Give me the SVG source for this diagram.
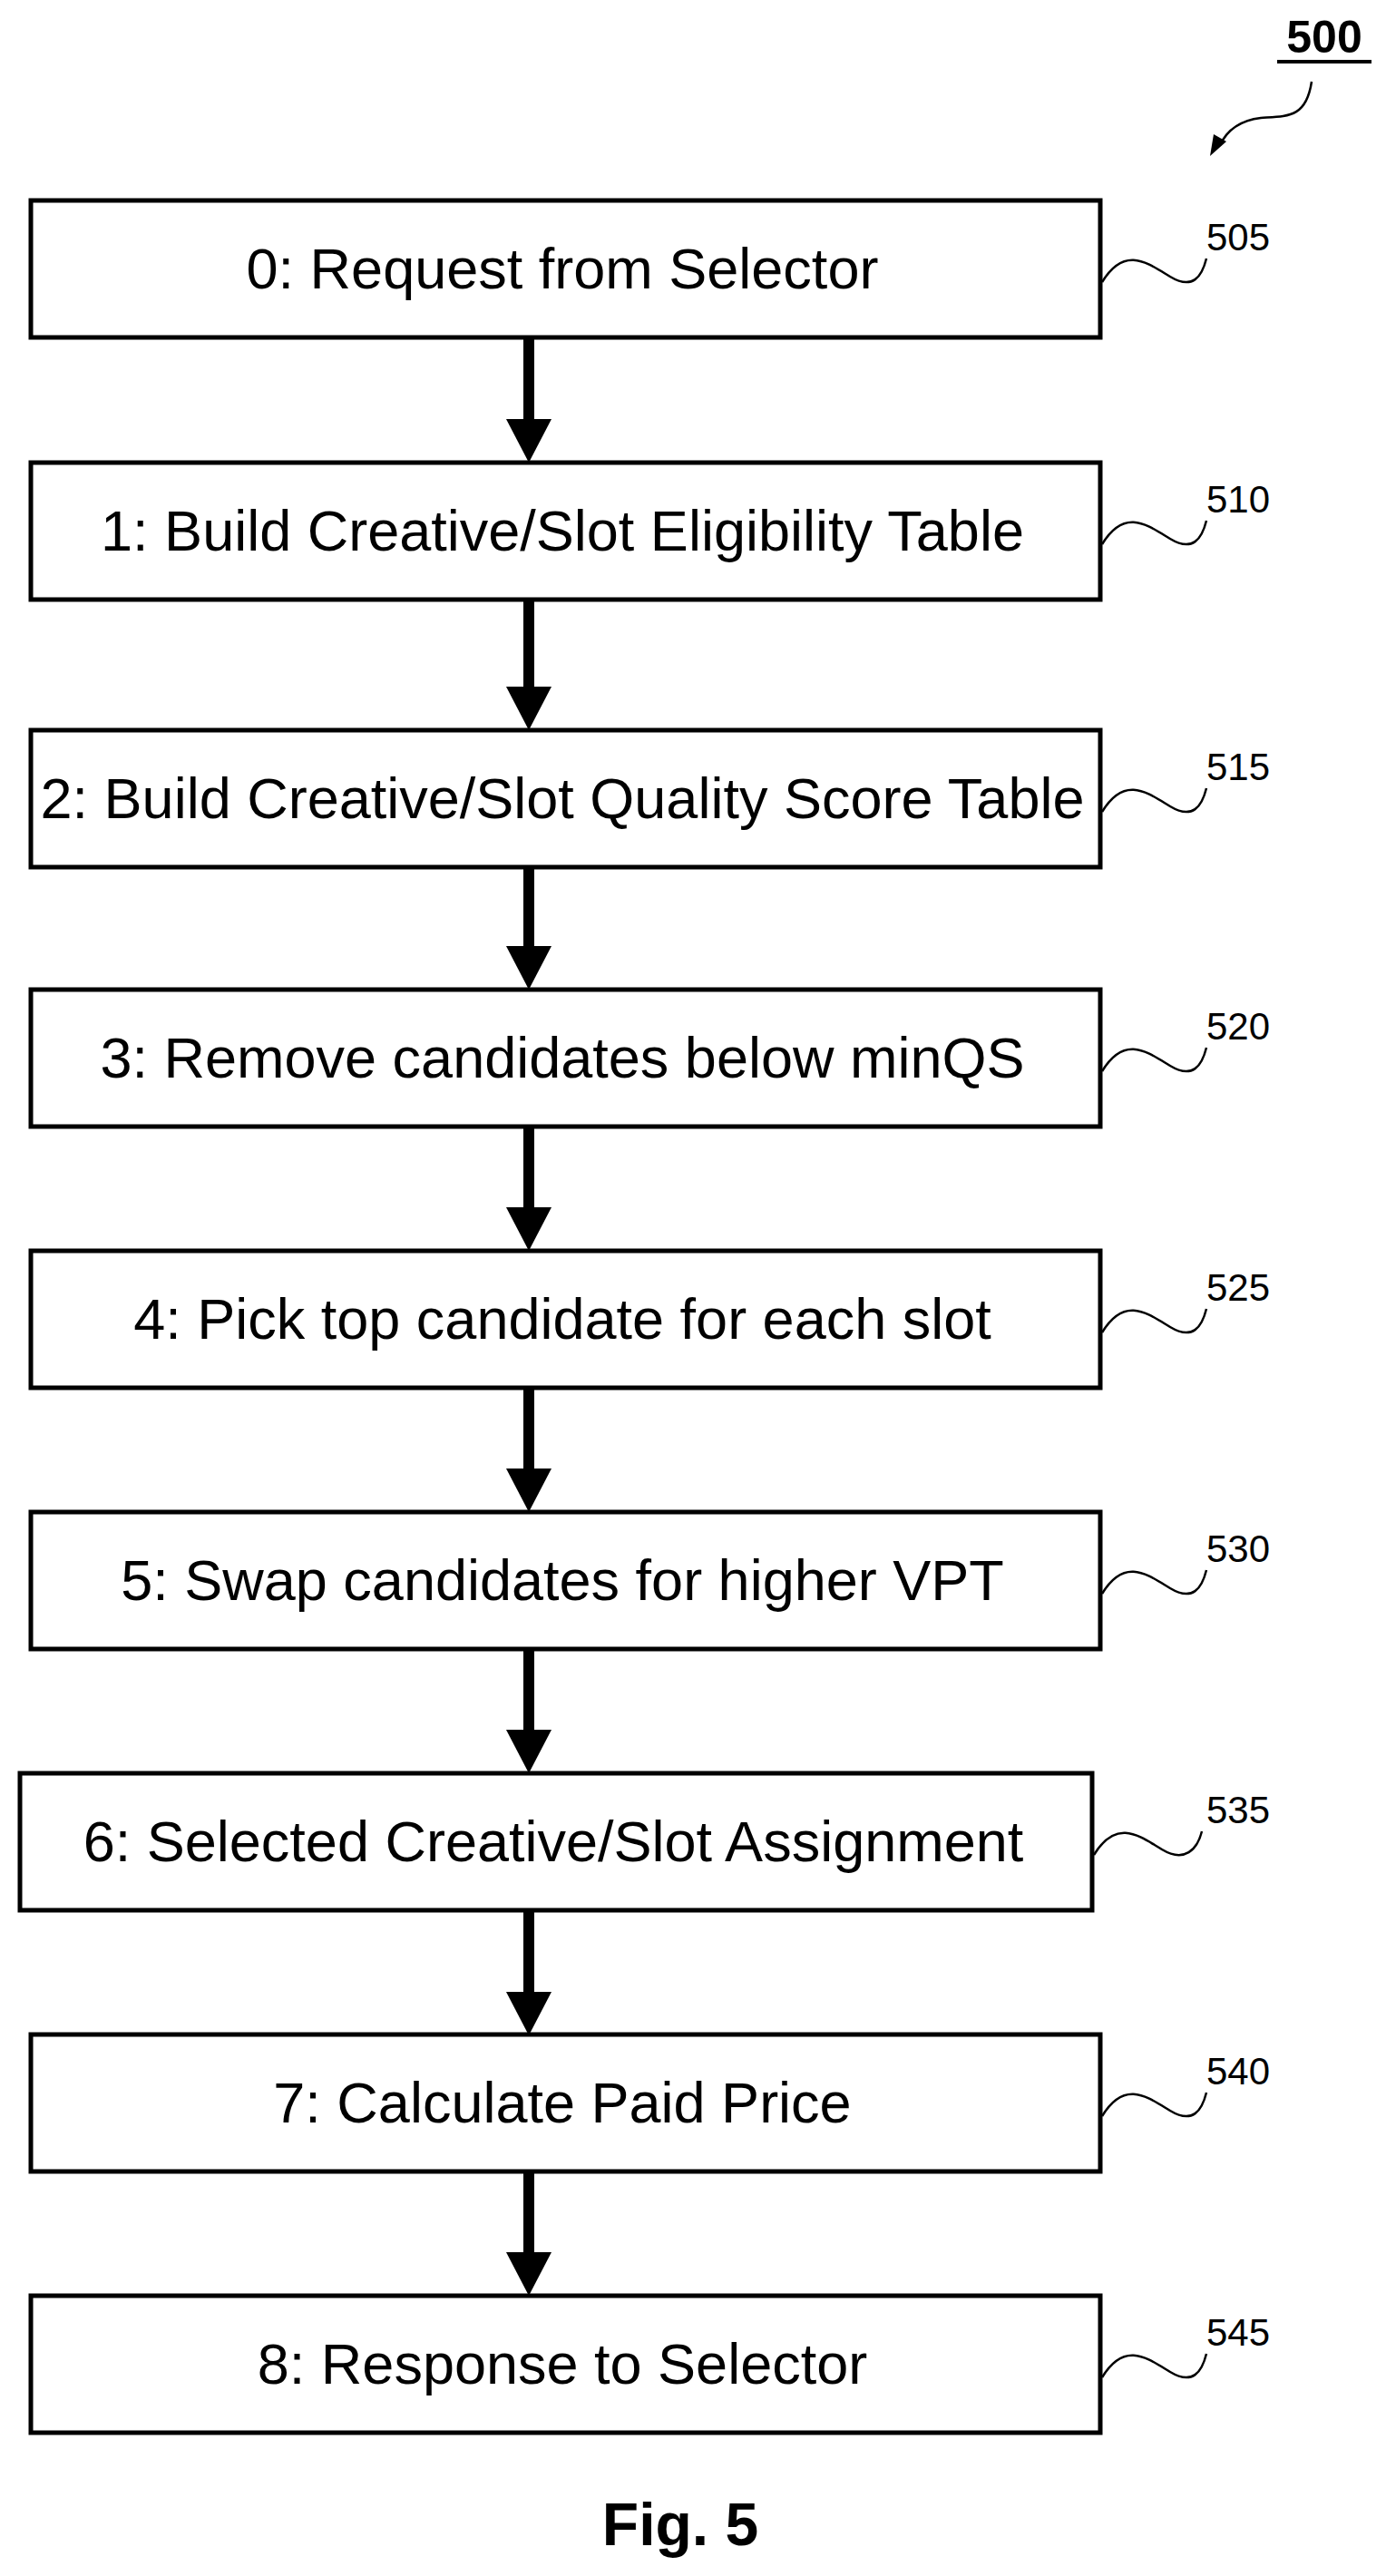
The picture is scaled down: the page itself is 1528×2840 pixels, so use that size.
<svg xmlns="http://www.w3.org/2000/svg" width="1528" height="2840" viewBox="0 0 1528 2840">
<style>
.box{fill:#fff;stroke:#000;stroke-width:5}
.t{font-family:"Liberation Sans",Arial,sans-serif;font-size:63px;text-anchor:middle}
.ref{font-family:"Liberation Sans",Arial,sans-serif;font-size:42px}
.sq{fill:none;stroke:#000;stroke-width:2.5}
.ar{stroke:#000;stroke-width:12}
</style>
<defs>
<path id="hd" d="M-25,0 L25,0 L0,48 Z" fill="#000"/>
</defs>
<rect width="1528" height="2840" fill="#fff"/>
<g id="title">
<text x="1460" y="58" font-family="Liberation Sans,Arial,sans-serif" font-weight="bold" font-size="50" text-anchor="middle">500</text>
<line x1="1408" y1="68" x2="1512" y2="68" stroke="#000" stroke-width="4"/>
<path class="sq" d="M1446,90 C1440,130 1420,128 1390,130 C1365,133 1352,145 1345,160"/>
<path d="M1334,172 L1338,148 L1352,156 Z" fill="#000"/>
</g>
<g id="connectors">
<line class="ar" x1="583" y1="373" x2="583" y2="468"/><use href="#hd" x="583" y="462"/>
<line class="ar" x1="583" y1="662" x2="583" y2="763"/><use href="#hd" x="583" y="757"/>
<line class="ar" x1="583" y1="956" x2="583" y2="1049"/><use href="#hd" x="583" y="1043"/>
<line class="ar" x1="583" y1="1242" x2="583" y2="1337"/><use href="#hd" x="583" y="1331"/>
<line class="ar" x1="583" y1="1530" x2="583" y2="1625"/><use href="#hd" x="583" y="1619"/>
<line class="ar" x1="583" y1="1818" x2="583" y2="1913"/><use href="#hd" x="583" y="1907"/>
<line class="ar" x1="583" y1="2106" x2="583" y2="2202"/><use href="#hd" x="583" y="2196"/>
<line class="ar" x1="583" y1="2394" x2="583" y2="2489"/><use href="#hd" x="583" y="2483"/>
</g>
<g id="n505"><rect class="box" x="34" y="221" width="1179" height="151"/><text class="t" x="620" y="318">0: Request from Selector</text><path class="sq" d="M1215,311 C1240,270 1265,290 1290,305 C1315,320 1325,305 1330,285"/><text class="ref" x="1330" y="276">505</text></g>
<g id="n510"><rect class="box" x="34" y="510" width="1179" height="151"/><text class="t" x="620" y="607">1: Build Creative/Slot Eligibility Table</text><path class="sq" d="M1215,600 C1240,559 1265,579 1290,594 C1315,609 1325,594 1330,574"/><text class="ref" x="1330" y="565">510</text></g>
<g id="n515"><rect class="box" x="34" y="805" width="1179" height="151"/><text class="t" x="620" y="902">2: Build Creative/Slot Quality Score Table</text><path class="sq" d="M1215,895 C1240,854 1265,874 1290,889 C1315,904 1325,889 1330,869"/><text class="ref" x="1330" y="860">515</text></g>
<g id="n520"><rect class="box" x="34" y="1091" width="1179" height="151"/><text class="t" x="620" y="1188">3: Remove candidates below minQS</text><path class="sq" d="M1215,1181 C1240,1140 1265,1160 1290,1175 C1315,1190 1325,1175 1330,1155"/><text class="ref" x="1330" y="1146">520</text></g>
<g id="n525"><rect class="box" x="34" y="1379" width="1179" height="151"/><text class="t" x="620" y="1476">4: Pick top candidate for each slot</text><path class="sq" d="M1215,1469 C1240,1428 1265,1448 1290,1463 C1315,1478 1325,1463 1330,1443"/><text class="ref" x="1330" y="1434">525</text></g>
<g id="n530"><rect class="box" x="34" y="1667" width="1179" height="151"/><text class="t" x="620" y="1764">5: Swap candidates for higher VPT</text><path class="sq" d="M1215,1757 C1240,1716 1265,1736 1290,1751 C1315,1766 1325,1751 1330,1731"/><text class="ref" x="1330" y="1722">530</text></g>
<g id="n535"><rect class="box" x="22" y="1955" width="1182" height="151"/><text class="t" x="610" y="2052">6: Selected Creative/Slot Assignment</text><path class="sq" d="M1206,2045 C1231,2004 1256,2024 1281,2039 C1306,2054 1320,2039 1325,2019"/><text class="ref" x="1330" y="2010">535</text></g>
<g id="n540"><rect class="box" x="34" y="2243" width="1179" height="151"/><text class="t" x="620" y="2340">7: Calculate Paid Price</text><path class="sq" d="M1215,2333 C1240,2292 1265,2312 1290,2327 C1315,2342 1325,2327 1330,2307"/><text class="ref" x="1330" y="2298">540</text></g>
<g id="n545"><rect class="box" x="34" y="2531" width="1179" height="151"/><text class="t" x="620" y="2628">8: Response to Selector</text><path class="sq" d="M1215,2621 C1240,2580 1265,2600 1290,2615 C1315,2630 1325,2615 1330,2595"/><text class="ref" x="1330" y="2586">545</text></g>
<text x="750" y="2806" font-family="Liberation Sans,Arial,sans-serif" font-weight="bold" font-size="66" text-anchor="middle">Fig. 5</text>
</svg>
